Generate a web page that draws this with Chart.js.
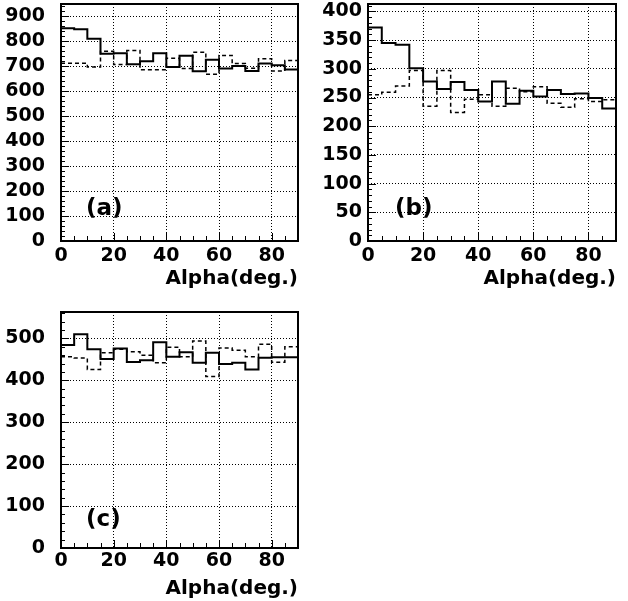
<!DOCTYPE html>
<html><head><meta charset="utf-8">
<script src="https://cdn.jsdelivr.net/npm/chart.js@4/dist/chart.umd.min.js"></script>
<style>
html,body{margin:0;padding:0;background:#fff;}
body{width:628px;height:601px;position:relative;overflow:hidden;}
.p{position:absolute;}
</style></head><body>
<div class="p" style="left:0;top:0;width:310px;height:300px"><canvas id="ca"></canvas></div>
<div class="p" style="left:310px;top:0;width:318px;height:300px"><canvas id="cb"></canvas></div>
<div class="p" style="left:0;top:300px;width:310px;height:301px"><canvas id="cc"></canvas></div>
<script>
// bin lower edges (Alpha, deg.), 5-degree bins from 0 to 90
const binStart = [0,5,10,15,20,25,30,35,40,45,50,55,60,65,70,75,80,85];
const binWidth = 5;
const xTickLabels = ['0','20','40','60','80'];
const axisTitle = 'Alpha(deg.)';

const aSolid  = [853,849,811,751,753,708,721,753,697,743,680,727,691,701,681,711,704,687];
const aDashed = [713,713,697,761,707,764,686,686,733,691,757,668,744,711,692,731,681,724];
const bSolid  = [372,345,342,301,278,265,277,263,243,278,239,262,252,263,256,257,249,231];
const bDashed = [255,259,270,297,235,297,224,247,255,235,266,260,269,240,233,248,243,246];
const cSolid  = [484,510,474,451,476,444,448,491,456,467,442,466,439,442,426,454,455,455];
const cDashed = [456,453,426,466,474,468,460,442,479,456,494,409,477,472,456,486,443,480];

Chart.defaults.font.family = 'DejaVu Sans';
Chart.defaults.font.weight = 'bold';
Chart.defaults.color = '#000';
Chart.defaults.animation = false;

function stepPoints(vals){
  const pts = vals.map((v,i)=>({x: binStart[i], y: v}));
  pts.push({x: binStart[binStart.length-1] + binWidth, y: vals[vals.length-1]});
  return pts;
}

const framePlugin = {
  id: 'frame',
  afterDraw(chart, args, o){
    const {ctx, chartArea: a, scales: {x, y}} = chart;
    ctx.save();
    ctx.strokeStyle = '#000';
    ctx.lineWidth = 1;
    for (let v = 0; v <= y.max + 1e-9; v += o.yMinor){
      const py = Math.round(y.getPixelForValue(v)) + 0.5;
      const major = Math.abs(v / o.yMajor - Math.round(v / o.yMajor)) < 1e-6;
      const len = major ? 8 : 4;
      ctx.beginPath(); ctx.moveTo(a.left, py); ctx.lineTo(a.left + len, py); ctx.stroke();
    }
    for (let v = 0; v <= x.max + 1e-9; v += 5){
      const px = Math.round(x.getPixelForValue(v)) + 0.5;
      const len = (v % 20 === 0) ? 8 : 5;
      ctx.beginPath(); ctx.moveTo(px, a.bottom); ctx.lineTo(px, a.bottom - len); ctx.stroke();
    }
    ctx.lineWidth = 2;
    ctx.strokeRect(a.left, a.top, a.right - a.left, a.bottom - a.top);
    ctx.font = 'bold 23px "DejaVu Sans"';
    ctx.fillStyle = '#000';
    ctx.textBaseline = 'middle';
    ctx.textAlign = 'left';
    ctx.fillText(o.label, a.left + o.lx, a.bottom - o.ly);
    ctx.restore();
  }
};

function makeChart(id, solid, dashed, cfg){
  return new Chart(document.getElementById(id), {
    type: 'line',
    data: {
      datasets: [
        {data: stepPoints(solid), stepped: 'before', borderColor: '#000', borderWidth: 2, pointRadius: 0, fill: false},
        {data: stepPoints(dashed), stepped: 'before', borderColor: '#000', borderWidth: 1.5, borderDash: [4,3], pointRadius: 0, fill: false}
      ]
    },
    options: {
      responsive: true, maintainAspectRatio: false,
      layout: {padding: {left: 0, top: cfg.top, right: cfg.right, bottom: 0}},
      plugins: {legend: {display: false}, tooltip: {enabled: false},
        frame: {yMinor: cfg.yMinor, yMajor: cfg.yMajor, label: cfg.label, lx: cfg.lx, ly: cfg.ly}},
      scales: {
        x: {
          type: 'linear', min: 0, max: 90,
          ticks: {stepSize: 20, includeBounds: false, padding: cfg.xPad, maxRotation: 0, autoSkip: false,
            font: {size: 19, weight: 'bold'},
            callback: (v) => xTickLabels.includes(String(v)) ? String(v) : ''},
          grid: {color: '#000', lineWidth: 1, drawTicks: false},
          border: {display: false, dash: [1,2]},
          title: {display: true, text: axisTitle, align: 'end', color: '#000',
            font: {size: 20, weight: 'bold'}, padding: {top: 0, bottom: cfg.tPad}},
          afterFit: (s) => { s.height = cfg.xH; s.paddingLeft = 0; s.paddingRight = 0; }
        },
        y: {
          type: 'linear', min: 0, max: cfg.yMax,
          ticks: {stepSize: cfg.yMajor, includeBounds: false, padding: cfg.yPad, font: {size: cfg.fs, weight: 'bold'}},
          grid: {color: '#000', lineWidth: 1, drawTicks: false},
          border: {display: false, dash: [1,2]},
          afterFit: (s) => { s.width = cfg.yW; s.paddingTop = 0; s.paddingBottom = 0; }
        }
      }
    },
    plugins: [framePlugin]
  });
}

makeChart('ca', aSolid, aDashed, {top: 4, right: 12, yW: 61, xH: 59, yMax: 950, yMajor: 100, yMinor: 20,
  yPad: 16, xPad: 4, tPad: 9, fs: 19, label: '(a)', lx: 25, ly: 32});
makeChart('cb', bSolid, bDashed, {top: 4, right: 12, yW: 58, xH: 59, yMax: 413, yMajor: 50, yMinor: 10,
  yPad: 6, xPad: 4, tPad: 9, fs: 19, label: '(b)', lx: 27, ly: 32});
makeChart('cc', cSolid, cDashed, {top: 12, right: 12, yW: 61, xH: 53, yMax: 563, yMajor: 100, yMinor: 20,
  yPad: 16, xPad: 2, tPad: 0, fs: 19, label: '(c)', lx: 25, ly: 28});
</script>
</body></html>
